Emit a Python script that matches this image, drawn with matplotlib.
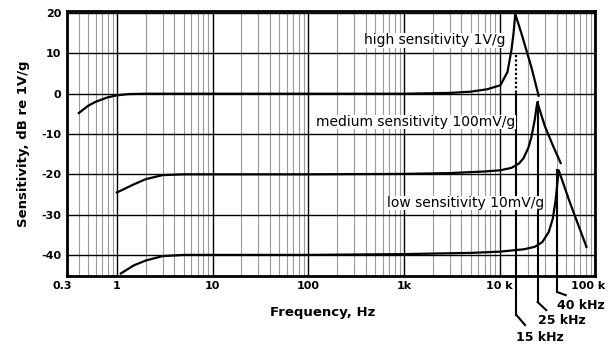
import matplotlib
matplotlib.use("Agg")
import matplotlib.pyplot as plt
import matplotlib.transforms as mtransforms
from matplotlib.ticker import FixedLocator, NullFormatter

plt.rcParams['font.family'] = ['DejaVu Sans']
plt.rcParams['axes.unicode_minus'] = False

# ---- data ----
high_f = [0.4, 0.5, 0.6, 0.8, 1.0, 1.3, 2, 10, 100, 1000, 3000, 5000, 7400, 10200, 12100, 13300, 14000, 14600, 16900, 21500, 25600]
high_db = [-4.8, -3.0, -2.0, -0.9, -0.4, -0.1, 0, 0, 0, 0.0, 0.2, 0.5, 1.1, 2.1, 5.4, 10.8, 15.0, 19.8, 15.0, 6.6, -0.5]

med_f = [1.0, 1.5, 2, 3, 5, 100, 1000, 3000, 7000, 10200, 13300, 16000, 17800, 20000, 21500, 23300, 24800, 29700, 36000, 43500]
med_db = [-24.5, -22.5, -21.2, -20.2, -20.0, -20.0, -19.9, -19.7, -19.3, -19.0, -18.4, -17.3, -16.0, -13.4, -10.8, -6.5, -2.1, -8.0, -12.8, -17.2]

low_f = [1.1, 1.5, 2, 3, 5, 100, 1000, 5000, 10000, 18000, 23300, 28000, 32700, 36000, 38500, 41500, 54000, 69000, 81000]
low_db = [-44.6, -42.6, -41.4, -40.3, -40.0, -40.0, -39.8, -39.5, -39.2, -38.6, -38.0, -36.8, -34.3, -31.0, -26.5, -19.0, -26.8, -33.6, -38.0]

curve_labels = ["high sensitivity 1V/g", "medium sensitivity 100mV/g", "low sensitivity 10mV/g"]
label_pos_f = [2120, 1340, 4370]
label_pos_db = [13.3, -7.0, -27.1]

res_f = [15000, 25000, 40000]
res_top_db = [9.6, -2.1, -19.0]
res_labels = ["15 kHz", "25 kHz", "40 kHz"]
res_bottom_db = [-54.9, -51.7, -49.2]
res_elbow_db = [-57.4, -53.7, -50.0]
res_label_db = [-60.4, -56.2, -52.5]

xticks = [0.3, 1, 10, 100, 1000, 10000, 100000]
xticklabels = ["0.3", "1", "10", "100", "1k", "10 k", "100 k"]
yticks = [20, 10, 0, -10, -20, -30, -40]

# ---- figure ----
fig = plt.figure(figsize=(6.08, 3.47), dpi=100)
ax = fig.add_axes([0.110, 0.205, 0.869, 0.763])
ax.set_xscale('log')
ax.set_xlim(0.3, 100000)
ax.set_ylim(-45.2, 20.5)

# grid
minors = []
for dec in range(-1, 5):
    for m in range(2, 10):
        v = m * 10.0 ** dec
        if 0.3 < v < 100000:
            minors.append(v)
ax.xaxis.set_minor_locator(FixedLocator(minors))
ax.xaxis.set_minor_formatter(NullFormatter())
ax.set_xticks(xticks)
ax.set_xticklabels(xticklabels)
ax.set_yticks(yticks)
ax.grid(True, which='major', axis='both', color='black', lw=1.0)
ax.grid(True, which='minor', axis='x', color='#9a9a9a', lw=0.8)
ax.tick_params(which='both', length=0, labelsize=8, pad=4)
for lab in ax.get_xticklabels() + ax.get_yticklabels():
    lab.set_fontweight('bold')
xl = ax.get_xticklabels()
xl[0].set_transform(xl[0].get_transform() + mtransforms.ScaledTranslation(-5/100, 0, fig.dpi_scale_trans))
xl[-1].set_transform(xl[-1].get_transform() + mtransforms.ScaledTranslation(-7/100, 0, fig.dpi_scale_trans))
for s in ax.spines.values():
    s.set_linewidth(2.0)
    s.set_zorder(5)

# curves
for f, d in [(high_f, high_db), (med_f, med_db), (low_f, low_db)]:
    ax.plot(f, d, color='black', lw=1.6, zorder=4, clip_on=False, solid_joinstyle='round')

# curve labels
for t, fx, dy in zip(curve_labels, label_pos_f, label_pos_db):
    ax.text(fx, dy, t, fontsize=10, ha='center', va='center', zorder=6,
            bbox=dict(facecolor='white', edgecolor='none', pad=0.3))

# resonance marker lines
for i in range(len(res_f)):
    fr = res_f[i]
    if i == 0:
        ax.plot([fr, fr], [res_top_db[i], 0], color='black', lw=1.6, ls=(0, (1, 1)), zorder=4)
        top = 0
    else:
        top = res_top_db[i]
    ax.plot([fr, fr], [top, res_bottom_db[i]], color='black', lw=1.5, zorder=4, clip_on=False)
    ax.plot([fr, fr * 1.23], [res_bottom_db[i], res_elbow_db[i]], color='black', lw=1.5,
            zorder=4, clip_on=False)
    ax.text(fr, res_label_db[i], res_labels[i], fontsize=9, ha='left', va='center',
            fontweight='bold')

ax.set_xlabel("Frequency, Hz", fontsize=9.5, fontweight='bold')
ax.xaxis.set_label_coords(0.484, -0.115)
ax.set_ylabel("Sensitivity, dB re 1V/g", fontsize=9.5, fontweight='bold', labelpad=8)

fig.savefig("out.png", dpi=100)
